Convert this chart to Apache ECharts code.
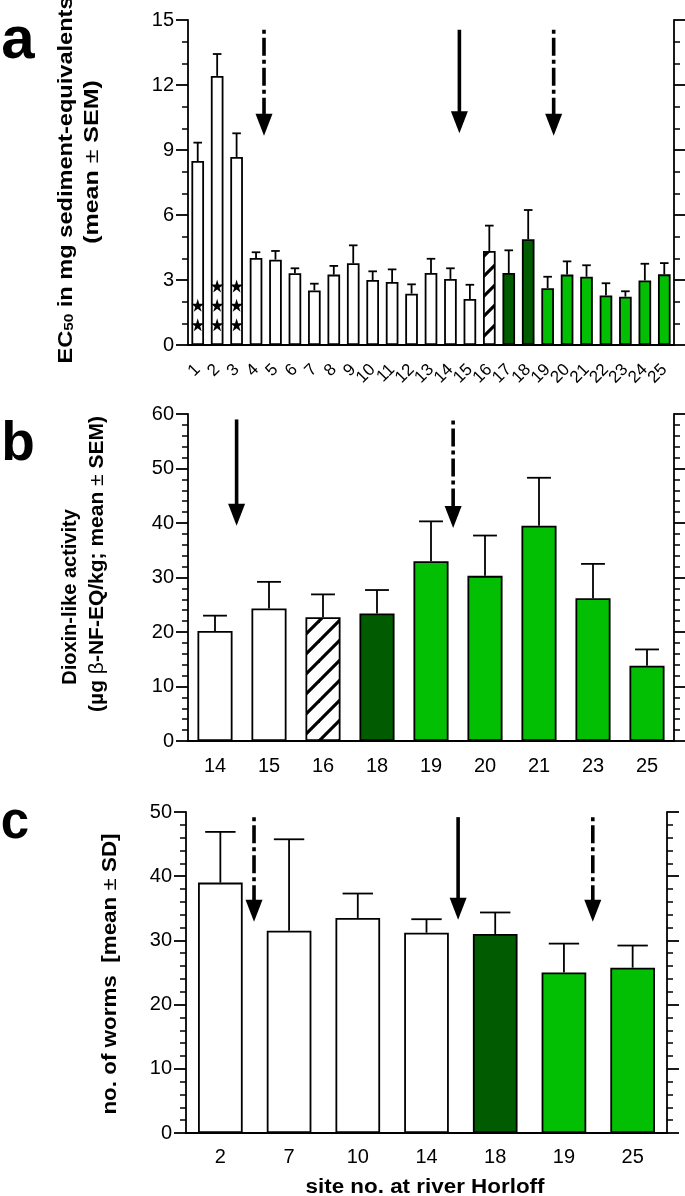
<!DOCTYPE html>
<html>
<head>
<meta charset="utf-8">
<script src="https://cdn.jsdelivr.net/npm/echarts@6/dist/echarts.min.js"></script>
<style>
html, body { margin: 0; padding: 0; background: #fff; }
#chart { width: 685px; height: 1196px; }
</style>
</head>
<body>
<div id="chart"></div>
<script>
// panel a: EC50 (mg sediment-equivalents), mean and SEM
const sitesA = ['1', '2', '3', '4', '5', '6', '7', '8', '9', '10', '11', '12', '13',
  '14', '15', '16', '17', '18', '19', '20', '21', '22', '23', '24', '25'];
const meanA = [8.49, 12.42, 8.68, 4.02, 3.94, 3.31, 2.52, 3.25, 3.77, 3.00, 2.91, 2.37, 3.32,
  3.05, 2.12, 4.34, 3.32, 4.88, 2.62, 3.25, 3.15, 2.29, 2.23, 2.98, 3.26];
const semA = [0.85, 1.01, 1.09, 0.26, 0.40, 0.23, 0.31, 0.40, 0.83, 0.40, 0.58, 0.43, 0.66,
  0.49, 0.66, 1.17, 1.05, 1.35, 0.53, 0.61, 0.53, 0.56, 0.25, 0.77, 0.52];
const typeA = ['w', 'w', 'w', 'w', 'w', 'w', 'w', 'w', 'w', 'w', 'w', 'w', 'w',
  'w', 'w', 'h', 'd', 'd', 'g', 'g', 'g', 'g', 'g', 'g', 'g'];
// significance stars [site index, height]
const starsA = [[0, 0.94], [0, 1.83], [1, 0.94], [1, 1.83], [1, 2.72], [2, 0.94], [2, 1.83], [2, 2.72]];
// arrows [site index, fraction to next site, top, tip, dash-dot?]
const arrowsA = [[3, 0.41, 14.55, 9.66, 1], [13, 0.46, 14.55, 9.77, 0], [18, 0.31, 14.55, 9.66, 1]];

// panel b: dioxin-like activity, mean and SEM
const sitesB = ['14', '15', '16', '18', '19', '20', '21', '23', '25'];
const meanB = [20.2, 24.3, 22.7, 23.4, 33.0, 30.3, 39.5, 26.2, 13.8];
const semB = [2.8, 4.9, 4.2, 4.3, 7.3, 7.4, 8.8, 6.3, 3.0];
const typeB = ['w', 'w', 'h', 'd', 'g', 'g', 'g', 'g', 'g'];
const arrowsB = [[0, 0.40, 59.0, 39.5, 0], [4, 0.41, 58.8, 39.1, 1]];

// panel c: number of worms, mean and SD
const sitesC = ['2', '7', '10', '14', '18', '19', '25'];
const meanC = [39.0, 31.5, 33.5, 31.2, 31.0, 25.0, 25.75];
const sdC = [7.9, 14.25, 3.8, 2.1, 3.35, 4.5, 3.45];
const typeC = ['w', 'w', 'w', 'w', 'd', 'g', 'g'];
const arrowsC = [[0, 0.49, 49.2, 32.9, 1], [3, 0.46, 49.2, 33.2, 0], [5, 0.42, 49.2, 32.9, 1]];

const FONT = "'Liberation Sans', Arial, sans-serif";
const STAR = 'path://M50,0 L61,35 L98,35 L68,57 L79,91 L50,70 L21,91 L32,57 L2,35 L39,35 Z';
const LW = 1.8;

function hatchCanvas() {
  const c = document.createElement('canvas');
  c.width = 20;
  c.height = 20;
  const g = c.getContext('2d');
  g.fillStyle = '#fff';
  g.fillRect(0, 0, 20, 20);
  g.strokeStyle = '#000';
  g.lineWidth = 3.2;
  g.beginPath(); g.moveTo(-4, 24); g.lineTo(24, -4); g.stroke();
  g.beginPath(); g.moveTo(-4, 4); g.lineTo(4, -4); g.stroke();
  g.beginPath(); g.moveTo(16, 24); g.lineTo(24, 16); g.stroke();
  return c;
}
const hatch = { image: hatchCanvas(), repeat: 'repeat' };

const fills = { w: '#ffffff', h: hatch, d: '#015c01', g: '#03bf03' };

function renderErr(params, api) {
  const i = api.value(0);
  const base = api.coord([i, api.value(1)]);
  const top = api.coord([i, api.value(2)]);
  const half = api.size([1, 0])[0] * 0.65 * 0.34;
  const st = { stroke: '#000', lineWidth: LW };
  return {
    type: 'group',
    children: [
      { type: 'line', shape: { x1: base[0], y1: base[1], x2: top[0], y2: top[1] }, style: st },
      { type: 'line', shape: { x1: top[0] - half, y1: top[1], x2: top[0] + half, y2: top[1] }, style: st }
    ]
  };
}

function renderArrow(params, api) {
  const i = api.value(0);
  const band = api.size([1, 0])[0];
  const pTop = api.coord([i, api.value(2)]);
  const pTip = api.coord([i, api.value(3)]);
  const x = pTop[0] + api.value(1) * band;
  const headH = 22, headW = 17;
  const yBase = pTip[1] - headH;
  const dashed = api.value(4) === 1;
  return {
    type: 'group',
    children: [
      {
        type: 'line',
        shape: { x1: x, y1: pTop[1], x2: x, y2: yBase + 2 },
        style: { stroke: '#000', lineWidth: 3.6, lineDash: dashed ? [4, 4, 18, 4] : null }
      },
      {
        type: 'polygon',
        shape: { points: [[x - headW / 2, yBase], [x + headW / 2, yBase], [x, pTip[1]]] },
        style: { fill: '#000' }
      }
    ]
  };
}

function axesX(gi, cats, labelOpt) {
  const line = { lineStyle: { color: '#000', width: LW } };
  const tick = { alignWithLabel: true, length: 8, lineStyle: { color: '#000', width: LW } };
  return [
    {
      type: 'category', gridIndex: gi, data: cats, position: 'bottom',
      axisLine: line, axisTick: tick,
      axisLabel: Object.assign({ color: '#000', fontFamily: FONT, interval: 0 }, labelOpt)
    },
    {
      type: 'category', gridIndex: gi, data: cats, position: 'top',
      axisLine: line, axisTick: tick, axisLabel: { show: false }
    }
  ];
}

function axesY(gi, max, interval, minorSplit) {
  const common = {
    type: 'value', gridIndex: gi, min: 0, max: max, interval: interval,
    splitLine: { show: false },
    axisLine: { show: true, lineStyle: { color: '#000', width: LW } },
    axisTick: { show: true, length: 12, lineStyle: { color: '#000', width: LW } },
    minorTick: { show: true, splitNumber: minorSplit, length: 6, lineStyle: { color: '#000', width: 1.5 } }
  };
  return [
    Object.assign({ position: 'left', axisLabel: { color: '#000', fontFamily: FONT, fontSize: 20, margin: 14 } }, common),
    Object.assign({ position: 'right', axisLabel: { show: false } }, common)
  ];
}

function panelSeries(p, mean, err, types, arrows) {
  const ax = { xAxisIndex: 2 * p, yAxisIndex: 2 * p };
  return [
    Object.assign({
      type: 'bar', barWidth: '65%',
      itemStyle: { borderColor: '#000', borderWidth: LW },
      data: mean.map((v, i) => ({ value: v, itemStyle: { color: fills[types[i]] } }))
    }, ax),
    Object.assign({
      type: 'custom', renderItem: renderErr, z: 3,
      data: mean.map((v, i) => [i, v, v + err[i]])
    }, ax),
    Object.assign({
      type: 'custom', renderItem: renderArrow, z: 4,
      encode: { x: 0, y: 2 },
      data: arrows
    }, ax)
  ];
}

function vTitle(x, y, text, size, stretch, rich) {
  return {
    type: 'text', x: x, y: y, rotation: Math.PI / 2, scaleX: stretch,
    style: {
      text: text, fontSize: size, fontWeight: 'bold', fontFamily: FONT, fill: '#000',
      align: 'center', verticalAlign: 'middle', rich: rich
    }
  };
}

function letter(x, y, t, size) {
  return {
    type: 'text', x: x, y: y,
    style: { text: t, fontSize: size, fontWeight: 'bold', fontFamily: FONT, fill: '#000', align: 'center', verticalAlign: 'middle' }
  };
}

const richBase = {
  b: { fontSize: 20, fontWeight: 'bold', fontFamily: FONT },
  s: { fontSize: 13, fontWeight: 'bold', fontFamily: FONT, verticalAlign: 'bottom' },
  n: { fontSize: 20, fontWeight: 'normal', fontFamily: FONT }
};

const chart = echarts.init(document.getElementById('chart'));
chart.setOption({
  animation: false,
  backgroundColor: '#fff',
  grid: [
    { left: 188, right: 11, top: 20, height: 325 },
    { left: 188, right: 11, top: 414, height: 327 },
    { left: 186, right: 18, top: 812, height: 321 }
  ],
  xAxis: [].concat(
    axesX(0, sitesA, { fontSize: 17, rotate: 45, margin: 22 }),
    axesX(1, sitesB, { fontSize: 20, margin: 15 }),
    axesX(2, sitesC, { fontSize: 20, margin: 14 })
  ),
  yAxis: [].concat(
    axesY(0, 15, 3, 3),
    axesY(1, 60, 10, 5),
    axesY(2, 50, 10, 5)
  ),
  series: [].concat(
    panelSeries(0, meanA, semA, typeA, arrowsA),
    [{
      type: 'scatter', xAxisIndex: 0, yAxisIndex: 0, z: 5,
      symbol: STAR, symbolSize: 13, itemStyle: { color: '#000', opacity: 1 },
      data: starsA
    }],
    panelSeries(1, meanB, semB, typeB, arrowsB),
    panelSeries(2, meanC, sdC, typeC, arrowsC)
  ),
  graphic: [
    letter(18, 41, 'a', 60),
    letter(18, 445, 'b', 55),
    letter(15, 824, 'c', 51),
    vTitle(66, 180, '{b|EC}{s|50}{b| in mg sediment-equivalents}', 20, 1.18, richBase),
    vTitle(92, 162, '(mean {n|±} SEM)', 20, 1.25, richBase),
    vTitle(70, 597, 'Dioxin-like activity', 20, 1, richBase),
    vTitle(97, 564, '(µg {n|β}-NF-EQ/kg; mean {n|±} SEM)', 20, 1.05, richBase),
    vTitle(110, 974, 'no. of worms  [mean {n|±} SD]', 20, 1.12, richBase),
    {
      type: 'text', x: 425, y: 1187, scaleX: 1.12,
      style: { text: 'site no. at river Horloff', fontSize: 20, fontWeight: 'bold', fontFamily: FONT, fill: '#000', align: 'center', verticalAlign: 'middle' }
    }
  ]
});
</script>
</body>
</html>
